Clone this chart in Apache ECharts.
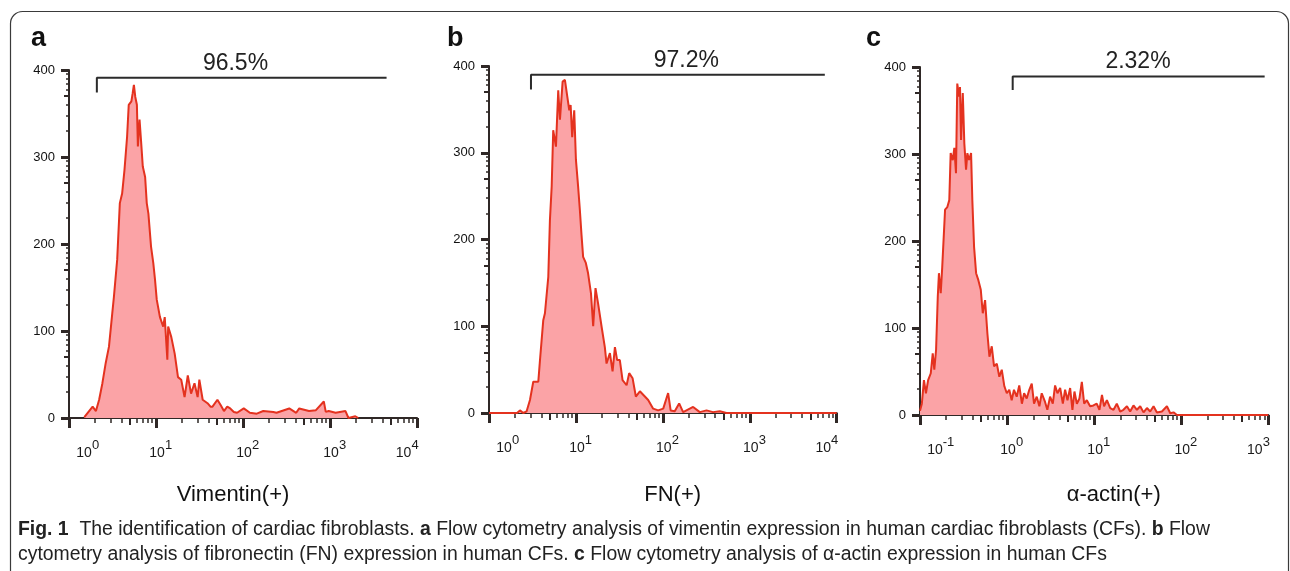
<!DOCTYPE html>
<html><head><meta charset="utf-8">
<script src="https://cdn.jsdelivr.net/npm/echarts@6/dist/echarts.min.js"></script>
<style>html,body{margin:0;padding:0;background:#fff}#c{width:1290px;height:571px}</style>
</head><body><div id="c"></div>
<script>
// ---- Panel a : Vimentin(+) ----
const vimentinX = [1.5,1.87,2.04,2.22,2.42,2.64,2.88,3.14,3.28,3.58,3.84,4.08,4.34,4.65,4.86,5.21,5.39,5.57,5.78,6.03,6.19,6.47,6.76,7.05,7.5,7.83,8.18,8.77,9.31,9.74,10.2,11.1,12.1,12.6,13.5,13.8,15.0,16.4,17.9,19.5,21.3,23.2,25.3,27.7,30.1,31.5,34.4,35.9,39.1,42.3,44.6,50.8,55.3,60.4,65.9,71.3,78.5,85.5,102,120,144,171,223,243,340,409,443,574,689,849,894,967,1161,1507,1629,1955,2113];
const vimentinCount = [1,13,8,21,40,63,82,120,139,182,247,258,285,323,360,364,373,383,369,360,312,343,316,289,277,247,235,197,178,159,136,116,105,116,67,105,93,74,47,44,24,49,28,40,24,44,21,21,17,13,13,21,15,8,13,11,7,6,11,6,5,8,7,6,11,6,11,8,9,19,7,8,6,8,0,2,0];
const vimentinGate = [2.09, 4470, 374, 391];   // left x, right x, tick end count, bar count
const vimentinPct = '96.5%';

// ---- Panel b : FN(+) ----
const fnX = [1,2.10,2.27,2.48,2.71,2.96,3.23,3.69,3.86,4.21,4.40,4.81,5.02,5.26,5.48,5.89,6.26,6.55,7.03,7.47,7.95,8.38,8.69,9.06,9.56,10.0,10.6,11.1,11.6,12.1,13.0,13.8,14.9,15.8,16.8,18.0,19.7,21.5,22.5,24.6,26.4,28.1,29.8,32.0,34.4,38.3,41.0,44.9,48.9,54.4,62.1,67.8,77.4,88.3,101,115,123,137,154,171,223,266,318,378,452,540,10000];
const fnCount = [0,0,3,0,2,15,36,36,61,107,115,157,222,261,326,307,372,338,382,384,365,349,355,318,349,292,261,234,205,180,173,161,138,100,144,126,100,76,57,69,48,76,61,61,38,32,46,40,19,25,19,15,5,3,5,23,3,2,11,1,7,1,3,1,2,0,0];
const fnGate = [3.04, 7300, 373, 390];
const fnPct = '97.2%';

// ---- Panel c : α-actin(+) ----
const actinX = [0.100,0.105,0.111,0.117,0.124,0.133,0.140,0.146,0.153,0.160,0.165,0.173,0.180,0.194,0.206,0.217,0.225,0.238,0.248,0.259,0.268,0.281,0.288,0.296,0.310,0.323,0.338,0.350,0.366,0.386,0.399,0.418,0.441,0.468,0.499,0.526,0.559,0.594,0.627,0.667,0.709,0.762,0.815,0.869,0.931,0.993,1.06,1.13,1.20,1.29,1.38,1.48,1.57,1.68,1.80,1.92,2.04,2.19,2.35,2.50,2.73,2.90,3.12,3.35,3.56,3.79,4.07,4.37,4.64,4.94,5.30,5.63,5.94,6.33,6.78,7.22,7.68,8.24,8.99,9.82,10.7,11.5,12.3,13.0,14.0,15.3,16.7,18.2,19.9,21.7,23.8,25.9,28.3,31.0,33.8,36.9,40.4,44.0,48.1,52.6,60.0,68.5,74.8,81.6,89.3,1000];
const actinCount = [5,13,40,25,40,48,71,52,75,136,163,140,170,236,239,247,301,293,307,278,381,366,377,316,370,312,282,301,293,301,247,193,163,155,144,117,132,94,67,79,56,59,44,52,33,25,29,17,29,21,34,13,25,19,29,36,13,21,10,25,15,6,21,13,34,25,31,13,29,17,31,6,27,13,19,38,13,17,10,11,13,6,23,10,17,8,6,13,4,6,10,4,11,6,10,3,8,4,10,3,4,10,2,3,0,0];
const actinGate = [1.16, 908, 373.5, 389];
const actinPct = '2.32%';

// ---- axes ----
const xRanges = [[1, 10000], [1, 10000], [0.1, 1000]];
const yTicks = [0, 100, 200, 300, 400];
const minorMultipliers = [2, 3, 4, 6, 7, 8, 9];
const midMultipliers = [5];
const axisNames = ['Vimentin(+)', 'FN(+)', 'α-actin(+)'];
const panelLetters = ['a', 'b', 'c'];

const FONT = '"Liberation Sans", Arial, Helvetica, sans-serif';
const AX = '#2f2826';
const LINE_RED = '#e4321f';
const FILL_RED = '#fba3a6';

const panels = [
  {x: vimentinX, y: vimentinCount, gate: vimentinGate, pct: vimentinPct,
   grid: {left: 69, top: 70, width: 348, height: 348}, pctPos: [235.5, 63.5], namePos: [233, 495], letterPos: [31, 39]},
  {x: fnX, y: fnCount, gate: fnGate, pct: fnPct,
   grid: {left: 489, top: 66, width: 347.7, height: 347}, pctPos: [686.3, 61], namePos: [672.7, 495], letterPos: [447, 39]},
  {x: actinX, y: actinCount, gate: actinGate, pct: actinPct,
   grid: {left: 920, top: 67, width: 348.3, height: 348}, pctPos: [1138, 61.8], namePos: [1113.7, 495], letterPos: [866, 39]}
];

function decadeTicks(lo, hi, mults) {
  const out = [];
  for (let d = lo; d < hi; d++) mults.forEach(m => out.push(d + Math.log10(m)));
  return out;
}
function linearDecadeTicks(ticks, mults) {
  const out = [];
  for (let k = 0; k < ticks.length - 1; k++) {
    const step = ticks[k + 1] - ticks[k];
    mults.forEach(m => out.push(ticks[k] + step * Math.log10(m)));
  }
  return out;
}

const grids = [], xAxis = [], yAxis = [], series = [], graphic = [];

panels.forEach((p, i) => {
  const lo = Math.round(Math.log10(xRanges[i][0]));
  const hi = Math.round(Math.log10(xRanges[i][1]));
  grids.push(Object.assign({containLabel: false}, p.grid));
  const base = {gridIndex: i, position: 'bottom', splitLine: {show: false}};
  // 0: data log axis
  xAxis.push(Object.assign({}, base, {
    type: 'log', logBase: 10, min: xRanges[i][0], max: xRanges[i][1],
    axisLine: {show: true, onZero: false, lineStyle: {color: AX, width: 2}},
    axisTick: {show: true, length: 10, lineStyle: {color: AX, width: 3}},
    axisLabel: {show: false}
  }));
  // 1: "10" labels
  xAxis.push(Object.assign({}, base, {
    type: 'value', min: lo, max: hi, interval: 1,
    axisLine: {show: false, onZero: false}, axisTick: {show: false},
    axisLabel: {
      margin: 28, fontFamily: FONT,
      formatter: v => v === lo ? '{p30| }{b|10}' : (v === hi ? '{b|10}{p27| }' : '{p2| }{b|10}'),
      rich: {
        b: {fontSize: 14, fontFamily: FONT, color: '#1a1a1a'},
        p30: {width: 30}, p27: {width: 27}, p2: {width: 2}
      }
    }
  }));
  // 2: exponent labels
  xAxis.push(Object.assign({}, base, {
    type: 'value', min: lo, max: hi, interval: 1,
    axisLine: {show: false, onZero: false}, axisTick: {show: false},
    axisLabel: {
      margin: 21, fontFamily: FONT,
      formatter: v => {
        const e = String(Math.round(v));
        if (v === lo) return (v < 0 ? '{p57| }' : '{p53| }') + '{s|' + e + '}';
        if (v === hi) return '{s|' + e + '}{p4| }';
        return '{p25| }{s|' + e + '}';
      },
      rich: {
        s: {fontSize: 13, fontFamily: FONT, color: '#1a1a1a'},
        p57: {width: 57}, p53: {width: 53}, p25: {width: 25}, p4: {width: 4}
      }
    }
  }));
  // 3: minor ticks
  xAxis.push(Object.assign({}, base, {
    type: 'value', min: lo, max: hi,
    axisLine: {show: false, onZero: false}, axisLabel: {show: false},
    axisTick: {show: true, customValues: decadeTicks(lo, hi, minorMultipliers), length: 5, lineStyle: {color: AX, width: 1.5}}
  }));
  // 4: mid ticks
  xAxis.push(Object.assign({}, base, {
    type: 'value', min: lo, max: hi,
    axisLine: {show: false, onZero: false}, axisLabel: {show: false},
    axisTick: {show: true, customValues: decadeTicks(lo, hi, midMultipliers), length: 7, lineStyle: {color: AX, width: 2}}
  }));

  const ybase = {gridIndex: i, position: 'left', type: 'value', min: yTicks[0], max: yTicks[yTicks.length - 1], splitLine: {show: false}};
  yAxis.push(Object.assign({}, ybase, {
    interval: 100,
    axisLine: {show: true, onZero: false, lineStyle: {color: AX, width: 2}},
    axisTick: {show: true, length: 8, lineStyle: {color: AX, width: 3}},
    axisLabel: {margin: 14, fontSize: 13, fontFamily: FONT, color: '#111'}
  }));
  yAxis.push(Object.assign({}, ybase, {
    axisLine: {show: false, onZero: false}, axisLabel: {show: false},
    axisTick: {show: true, customValues: linearDecadeTicks(yTicks, minorMultipliers), length: 3, lineStyle: {color: AX, width: 1.5}}
  }));
  yAxis.push(Object.assign({}, ybase, {
    axisLine: {show: false, onZero: false}, axisLabel: {show: false},
    axisTick: {show: true, customValues: linearDecadeTicks(yTicks, midMultipliers), length: 5, lineStyle: {color: AX, width: 2}}
  }));

  series.push({
    type: 'line', xAxisIndex: 5 * i, yAxisIndex: 3 * i, silent: true,
    data: p.x.map((v, j) => [v, p.y[j]]), symbol: 'none', smooth: false,
    lineStyle: {color: LINE_RED, width: 2}, areaStyle: {color: FILL_RED, opacity: 1}, z: 3
  });
  const g = p.gate;
  series.push({
    type: 'line', xAxisIndex: 5 * i, yAxisIndex: 3 * i, silent: true,
    data: [[g[0], g[2]], [g[0], g[3]], [g[1], g[3]]], symbol: 'none',
    lineStyle: {color: '#2b2b2b', width: 2}, z: 4
  });

  graphic.push({type: 'text', x: p.letterPos[0], y: p.letterPos[1], silent: true,
    style: {text: panelLetters[i], font: 'bold 27px ' + FONT, fill: '#111', align: 'left', verticalAlign: 'middle'}});
  graphic.push({type: 'text', x: p.pctPos[0], y: p.pctPos[1], silent: true,
    style: {text: p.pct, font: '23px ' + FONT, fill: '#222', align: 'center', verticalAlign: 'middle'}});
  graphic.push({type: 'text', x: p.namePos[0], y: p.namePos[1], silent: true,
    style: {text: axisNames[i], font: '22px ' + FONT, fill: '#111', align: 'center', verticalAlign: 'middle'}});
});

// frame
graphic.unshift({type: 'rect', silent: true, shape: {x: 10.5, y: 11.5, width: 1278, height: 640, r: 12},
  style: {fill: 'none', stroke: '#3a3a3a', lineWidth: 1.2}});

// caption
const CAP = 19.4;
const capRich = {b: {fontWeight: 'bold', fontSize: CAP, fontFamily: FONT, fill: '#222'}};
graphic.push({type: 'text', x: 18, y: 530, silent: true,
  style: {text: '{b|Fig. 1}  The identification of cardiac fibroblasts. {b|a} Flow cytometry analysis of vimentin expression in human cardiac fibroblasts (CFs). {b|b} Flow',
    font: CAP + 'px ' + FONT, fill: '#222', align: 'left', verticalAlign: 'middle', rich: capRich}});
graphic.push({type: 'text', x: 18, y: 555, silent: true,
  style: {text: 'cytometry analysis of fibronectin (FN) expression in human CFs. {b|c} Flow cytometry analysis of α-actin expression in human CFs',
    font: CAP + 'px ' + FONT, fill: '#222', align: 'left', verticalAlign: 'middle', rich: capRich}});

const chart = echarts.init(document.getElementById('c'), null, {renderer: 'canvas'});
chart.setOption({
  animation: false,
  backgroundColor: '#fff',
  grid: grids, xAxis: xAxis, yAxis: yAxis, series: series, graphic: graphic
});
</script></body></html>
